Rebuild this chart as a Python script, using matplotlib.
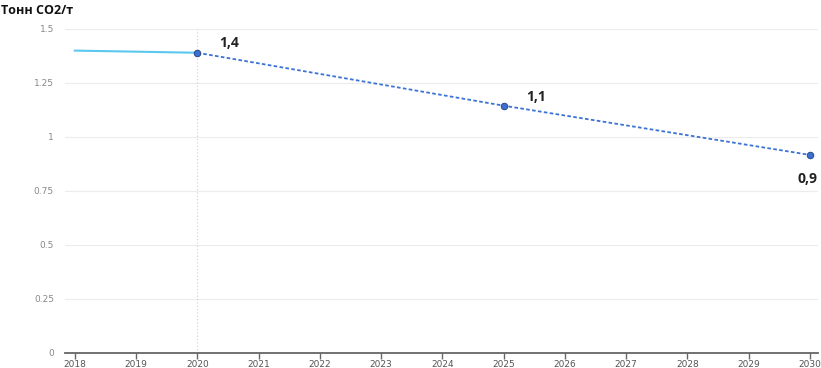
import matplotlib.pyplot as plt

# Historical and forecast values
hist_years = [2018, 2020]
hist_values = [1.40, 1.39]
fc_years = [2020, 2025, 2030]
fc_values = [1.39, 1.145, 0.917]
fc_labels = ['1,4', '1,1', '0,9']
x_ticks = list(range(2018, 2031))
y_ticks = [0, 0.25, 0.5, 0.75, 1, 1.25, 1.5]
y_tick_labels = ['0', '0.25', '0.5', '0.75', '1', '1.25', '1.5']

fig = plt.figure(figsize=(8.21, 3.68), dpi=100)
ax = fig.add_axes([65 / 821, 1 - 353 / 368, (818 - 65) / 821, (353 - 29) / 368])

for y in y_ticks[1:]:
    ax.axhline(y, color='#ececec', lw=0.8, zorder=0)
ax.axvline(2020, color='#d0d0d0', lw=0.8, ls=(0, (1, 2)), zorder=0)

ax.plot(hist_years, hist_values, color='#5cc8f0', lw=1.5, zorder=2)
ax.plot(fc_years, fc_values, color='#3b72d6', lw=1.3, ls=(0, (2, 1.3)), zorder=2)
ax.scatter(fc_years, fc_values, s=22, color='#3b6fd0', edgecolor='#2a4a8a',
           linewidth=0.7, zorder=3)

offsets = [(23, 7), (23, 6), (-2, -17)]
for x, y, lab, off in zip(fc_years, fc_values, fc_labels, offsets):
    ax.annotate(lab, (x, y), xytext=off, textcoords='offset points',
                ha='center', va='center', fontsize=10, fontweight='bold',
                family='Open Sans', color='#222222')

ax.set_xlim(2017.84, 2030.13)
ax.set_ylim(0, 1.5)
ax.set_xticks(x_ticks)
ax.set_xticklabels([str(x) for x in x_ticks], fontsize=6.5, color='#555555')
ax.set_yticks(y_ticks)
ax.set_yticklabels(y_tick_labels, fontsize=6.5, color='#888888')
ax.tick_params(axis='y', length=0, pad=8)
ax.tick_params(axis='x', length=4, width=1, color='#666666', pad=1)
for s in ['top', 'right', 'left']:
    ax.spines[s].set_visible(False)
ax.spines['bottom'].set_color('#666666')
ax.spines['bottom'].set_linewidth(1.3)

fig.text(1 / 821, 1 - 10 / 368, 'Тонн СО2/т', fontsize=9, fontweight='bold',
         family='Open Sans', color='#111111', ha='left', va='center')

fig.savefig('out.png', dpi=100)
